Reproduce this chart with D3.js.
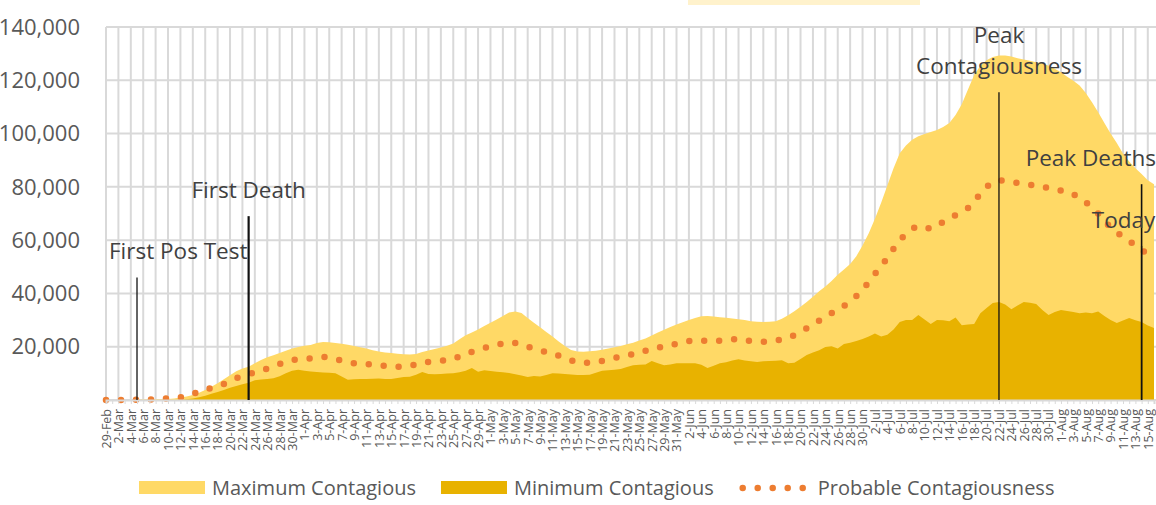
<!DOCTYPE html>
<html>
<head>
<meta charset="utf-8">
<script src="https://cdn.jsdelivr.net/npm/d3@7"></script>
<style>
  body { margin: 0; background: #fff; }
  text { font-family: "Open Sans", "Noto Sans", sans-serif; }
</style>
</head>
<body>
<svg id="chart"></svg>
<script>

// categories: one per day, 29-Feb to 16-Aug 2020
const startDay = new Date(2020, 1, 29);
const endDay = new Date(2020, 7, 17);
const fmt = d3.timeFormat("%-d-%b");
const dates = d3.timeDay.range(startDay, endDay).map(fmt);

const yTicks = [20000, 40000, 60000, 80000, 100000, 120000, 140000];

const maxContagious = [
    0, 0, 0, 0, 0, 100, 150, 200, 250, 300,
    400, 600, 900, 1300, 1900, 2700, 3800, 5000, 6300, 7800,
    9300, 10800, 11800, 12500, 13800, 15000, 16000, 16800, 17600, 18500,
    19300, 19900, 20400, 20600, 21400, 21800, 21700, 21400, 21100, 20700,
    20300, 19800, 19300, 18700, 18200, 17800, 17600, 17400, 17200, 17100,
    17300, 18000, 18600, 19100, 19700, 20400, 21200, 22800, 24300, 25300,
    26500, 27800, 29000, 30200, 31500, 32800, 33200, 32700, 30800, 29000,
    27300, 25500, 23800, 22000, 20300, 18800, 18200, 18100, 18300, 18500,
    18900, 19300, 19800, 20300, 20900, 21500, 22300, 23100, 24200, 25300,
    26400, 27400, 28300, 29200, 30000, 30800, 31400, 31500, 31300, 31100,
    30900, 30600, 30300, 30000, 29600, 29400, 29300, 29400, 29600, 30500,
    31800, 33300, 35000, 36800, 38800, 40800, 42600, 44700, 47000, 49000,
    51000, 54000, 58000, 62600, 68000, 74000, 80500, 87000, 92600, 95500,
    97700, 99000, 99800, 100600, 101300, 102500, 104000, 107000, 111000, 116500,
    122000, 125500, 127500, 128700, 129300, 129300, 128900, 128300, 127800, 127300,
    126800, 126300, 125500, 124300, 123000, 121300, 119800, 118000, 115200, 111800,
    108000, 104000, 100000, 96500, 92500, 89500, 87000, 84800, 82500, 81000
];

const minContagious = [
    0, 0, 0, 0, 0, 0, 0, 0, 0, 0,
    0, 0, 100, 300, 600, 1000, 1600, 2300, 3000, 3800,
    4600, 5300, 5900, 6500, 7400, 7700, 7900, 8200, 8900, 10000,
    11000, 11400, 11000, 10700, 10500, 10300, 10200, 10000, 8800, 7600,
    7800, 7900, 7900, 8000, 8100, 7900, 7900, 8300, 8600, 8700,
    9500, 10500, 9800, 9700, 9800, 9900, 10000, 10400, 11000, 12000,
    10600, 11200, 10900, 10600, 10400, 10100, 9700, 9200, 8600, 9000,
    8800, 9400, 10000, 9900, 9800, 9600, 9400, 9400, 9500, 10200,
    11000, 11200, 11400, 11600, 12400, 13000, 13200, 13300, 14600, 13800,
    13000, 13300, 13800, 13800, 13800, 13800, 13200, 12000, 12900, 13800,
    14200, 14800, 15300, 14800, 14500, 14300, 14500, 14600, 14700, 14900,
    13800, 14000, 15400, 16900, 17800, 18700, 19900, 20200, 19300, 21000,
    21500, 22100, 22900, 23800, 25000, 23800, 24500, 26500, 29300, 30000,
    30000, 31900, 30200, 28500, 30000, 29900, 29600, 31000, 28100, 28300,
    28500, 32600, 34500, 36400, 36800, 35800, 34100, 35500, 36800, 36500,
    36000, 33800, 31900, 33000, 33800, 33400, 33000, 32600, 32800, 32600,
    33200, 31500, 30000, 28900, 29800, 30800, 29900, 29300, 28000, 27000
];

const probable = [
    0, 0, 0, 0, 0, 100, 100, 200, 300, 400,
    600, 800, 1000, 1600, 2300, 3000, 3700, 4600, 5300, 6000,
    7100, 8200, 9000, 9700, 10400, 11100, 11800, 12700, 13500, 14300,
    15000, 15200, 15300, 15600, 15900, 16200, 15900, 15400, 14800, 14100,
    13800, 13600, 13500, 13300, 13100, 12800, 12500, 12400, 12600, 12800,
    13300, 14000, 14300, 14500, 14700, 15000, 15400, 16400, 17400, 18100,
    18800, 19500, 20100, 20700, 21200, 21700, 21400, 20900, 20000, 19200,
    18500, 18100, 17600, 16600, 15600, 14900, 14100, 13900, 14000, 14200,
    14700, 15300, 15800, 16300, 16800, 17200, 17600, 18500, 19500, 19700,
    19900, 20500, 21100, 21700, 22100, 22500, 22300, 22100, 22100, 22300,
    22500, 22700, 22900, 22500, 22100, 21900, 21900, 22000, 22300, 22700,
    23500, 24300, 25600, 26900, 28200, 29800, 31600, 32600, 34000, 35300,
    37100, 39000, 41400, 44300, 47300, 50300, 53300, 56800, 59800, 62600,
    64300, 65300, 64900, 64200, 65500, 66800, 68100, 69400, 70700, 72000,
    74600, 77300, 80000, 81600, 82500, 82200, 81900, 81500, 81100, 80800,
    80500, 80100, 79500, 78800, 78600, 78400, 77200, 76000, 74200, 72400,
    70000, 67500, 64600, 62800, 61400, 59800, 57800, 56300, 54800, 53500
];

// event markers
const eventNames = ["First Pos Test", "First Death", "Peak\nContagiousness", "Peak Deaths", "Today"];
const eventDates = ["5-Mar", "23-Mar", "22-Jul", "14-Aug", "14-Aug"];
const eventTops = [46000, 69000, 115500, 81000, 57800];

const seriesNames = ["Maximum Contagious", "Minimum Contagious", "Probable Contagiousness"];

const colMax = "#FFD966";
const colMin = "#E8B200";
const colProb = "#ED7D31";
const gridCol = "#d9d9d9";
const textCol = "#595959";

var W = 1156, H = 505;
var margin = {top: 27, right: 2, bottom: 105, left: 106};

var svg = d3.select("#chart").attr("width", W).attr("height", H);

var x = d3.scalePoint().domain(dates).range([margin.left, W - margin.right]);
var y = d3.scaleLinear().domain([0, 140000]).range([H - margin.bottom, margin.top]);

// pale box at the top (cut-off title)
svg.append("rect")
    .attr("x", 688).attr("y", 0).attr("width", 232).attr("height", 5)
    .attr("fill", "#FFF2CC");

// horizontal grid
svg.append("g")
    .selectAll("line")
    .data([0].concat(yTicks))
    .join("line")
    .attr("x1", margin.left).attr("x2", W)
    .attr("y1", d => y(d)).attr("y2", d => y(d))
    .attr("stroke", gridCol).attr("stroke-width", 2);

// vertical grid every second day
svg.append("g")
    .selectAll("line")
    .data(dates.filter((d, i) => i % 2 == 0))
    .join("line")
    .attr("x1", d => x(d)).attr("x2", d => x(d))
    .attr("y1", y(140000)).attr("y2", y(0))
    .attr("stroke", gridCol).attr("stroke-width", 2);

var area = d3.area()
    .x((d, i) => x(dates[i]))
    .y0(y(0))
    .y1(d => y(d));

svg.append("path")
    .datum(maxContagious)
    .attr("fill", colMax)
    .attr("d", area);

svg.append("path")
    .datum(minContagious)
    .attr("fill", colMin)
    .attr("d", area);

var line = d3.line()
    .x((d, i) => x(dates[i]))
    .y(d => y(d));

svg.append("path")
    .datum(probable)
    .attr("fill", "none")
    .attr("stroke", colProb)
    .attr("stroke-width", 6.5)
    .attr("stroke-linecap", "round")
    .attr("stroke-dasharray", "0 15")
    .attr("d", line);

// x axis
var xAxis = svg.append("g")
    .attr("transform", "translate(0," + y(0) + ")")
    .call(d3.axisBottom(x)
        .tickSize(4)
        .tickFormat((d, i) => i % 2 == 0 ? d : ""));
xAxis.select(".domain").attr("stroke", gridCol).attr("stroke-width", 2);
xAxis.selectAll(".tick line").attr("stroke", gridCol);
xAxis.selectAll(".tick text")
    .attr("transform", "rotate(-90)")
    .attr("text-anchor", "end")
    .attr("x", -9)
    .attr("y", 0)
    .attr("dy", "0.35em")
    .attr("fill", textCol)
    .style("font-size", "12.5px");

// y labels
svg.append("g")
    .selectAll("text")
    .data(yTicks)
    .join("text")
    .attr("x", 80)
    .attr("y", d => y(d))
    .attr("dy", "0.35em")
    .attr("text-anchor", "end")
    .attr("fill", textCol)
    .style("font-size", "22px")
    .text(d3.format(","));

// event lines and labels
var lineWidth = [1.3, 2.2, 1.3, 1.6, 1.3];
eventNames.forEach(function(name, i) {
    var ex = x(eventDates[i]);
    svg.append("line")
        .attr("x1", ex).attr("x2", ex)
        .attr("y1", y(eventTops[i])).attr("y2", y(0))
        .attr("stroke", "#111")
        .attr("stroke-width", lineWidth[i]);

    var parts = name.split("\n");
    var t = svg.append("text")
        .attr("text-anchor", "middle")
        .attr("fill", "#404040")
        .style("font-size", "22.5px");
    parts.forEach(function(p, k) {
        t.append("tspan")
            .attr("x", ex)
            .attr("y", y(eventTops[i]) - 18 - (parts.length - 1 - k) * 31)
            .text(p);
    });
    // keep the label inside the plot
    var bb = t.node().getBBox();
    var shift = 0;
    if (bb.x < margin.left + 3) shift = margin.left + 3 - bb.x;
    if (bb.x + bb.width > W) shift = W - (bb.x + bb.width);
    t.attr("transform", "translate(" + shift + ",0)");
});

// legend
var lg = svg.append("g").attr("transform", "translate(139,488)");
var lx = 0;
seriesNames.forEach(function(name, i) {
    var tx = lx + 73;
    if (i < 2) {
        lg.append("rect")
            .attr("x", lx).attr("y", -7)
            .attr("width", 66).attr("height", 13)
            .attr("fill", i == 0 ? colMax : colMin);
    } else {
        lg.append("line")
            .attr("x1", lx + 4).attr("x2", lx + 66)
            .attr("y1", 0).attr("y2", 0)
            .attr("stroke", colProb)
            .attr("stroke-width", 6.5)
            .attr("stroke-linecap", "round")
            .attr("stroke-dasharray", "0 15");
        tx = lx + 79;
    }
    var t = lg.append("text")
        .attr("x", tx)
        .attr("y", 0)
        .attr("dy", "0.35em")
        .attr("fill", textCol)
        .style("font-size", "20px")
        .text(name);
    lx = tx + t.node().getComputedTextLength() + 25;
});

</script>
</body>
</html>
